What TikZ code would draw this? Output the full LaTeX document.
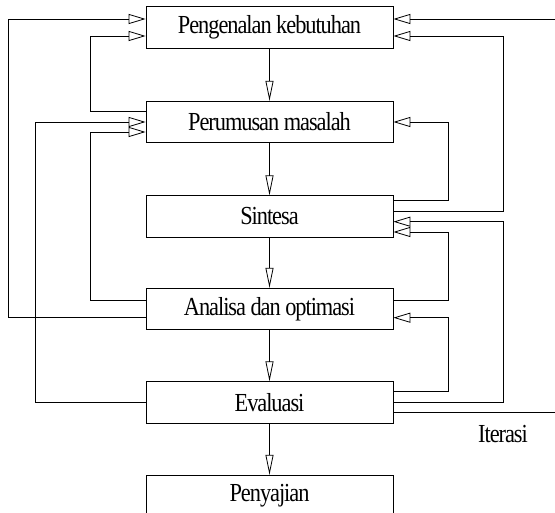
\documentclass[tikz,border=0pt]{standalone}
\usepackage{fontspec}
\setmainfont{Liberation Serif}[FakeStretch=0.86,LetterSpace=-4]
\usetikzlibrary{arrows.meta}
\begin{document}
\begin{tikzpicture}[x=1pt,y=-1pt,line width=0.8pt,
  box/.style={draw, minimum width=247pt, minimum height=41.5pt, inner sep=0pt,
    font=\fontsize{26}{30}\selectfont},
  lbl/.style={inner sep=0pt, font=\fontsize{26}{30}\selectfont},
  sa/.style={-{Triangle[open,length=17pt,width=10pt]}},
  da/.style={-{Triangle[open,length=20pt,width=8pt]}}]
\clip (0,0) rectangle (555,513);
\node[box] (b1) at (269.5,27.5) {Pengenalan kebutuhan};
\node[box] (b2) at (269.5,122) {Perumusan masalah};
\node[box] (b3) at (269.5,216.5) {Sintesa};
\node[box] (b4) at (269.5,309) {Analisa dan optimasi};
\node[box] (b5) at (269.5,402.5) {Evaluasi};
\node[box] (b6) at (269.5,496) {Penyajian};
\node[lbl] (it) at (503,434) {Iterasi};
% ports
\coordinate (b1w1) at ([yshift=8.5pt]b1.west);
\coordinate (b1w2) at ([yshift=-8.5pt]b1.west);
\coordinate (b1e1) at ([yshift=8.5pt]b1.east);
\coordinate (b1e2) at ([yshift=-8.5pt]b1.east);
\coordinate (b2w1) at ([yshift=11pt]b2.west);
\coordinate (b2w2) at (b2.west);
\coordinate (b2w3) at ([yshift=-10pt]b2.west);
\coordinate (b2e1) at (b2.east);
\coordinate (b3e1) at ([yshift=15.8pt]b3.east);
\coordinate (b3e2) at ([yshift=5.2pt]b3.east);
\coordinate (b3e3) at ([yshift=-5.2pt]b3.east);
\coordinate (b3e4) at ([yshift=-15.5pt]b3.east);
\coordinate (b4w1) at ([yshift=8.3pt]b4.west);
\coordinate (b4w2) at ([yshift=-8.7pt]b4.west);
\coordinate (b4e1) at ([yshift=9pt]b4.east);
\coordinate (b4e2) at ([yshift=-8.7pt]b4.east);
\coordinate (b5w1) at (b5.west);
\coordinate (b5e1) at ([yshift=10.8pt]b5.east);
\coordinate (b5e2) at (b5.east);
\coordinate (b5e3) at ([yshift=-9.8pt]b5.east);
\coordinate (edge1) at (555,19);
\coordinate (edge2) at (555,412.3);
% main flow
\draw[da] (b1.south) -- (b2.north);
\draw[da] (b2.south) -- (b3.north);
\draw[da] (b3.south) -- (b4.north);
\draw[da] (b4.south) -- (b5.north);
\draw[da] (b5.south) -- (b6.north);
% left feedback
\draw[sa] (b4w2) -- ++(-137,0) |- (b1w1);
\draw[sa] (b5w1) -- ++(-110,0) |- (b2w2);
\draw[sa] (b2w1) -- ++(-55,0) |- (b1w2);
\draw[sa] (b4w1) -- ++(-55,0) |- (b2w3);
% right feedback
\draw[sa] (b3e1) -- ++(55,0) |- (b2e1);
\draw[sa] (b3e2) -- ++(110,0) |- (b1e2);
\draw[sa] (b4e1) -- ++(55,0) |- (b3e4);
\draw[sa] (b5e2) -- ++(110,0) |- (b3e3);
\draw[sa] (b5e1) -- ++(55,0) |- (b4e2);
\draw[sa] (edge1) -- (b1e1);
\draw (b5e3) -- (edge2);
\end{tikzpicture}
\end{document}
